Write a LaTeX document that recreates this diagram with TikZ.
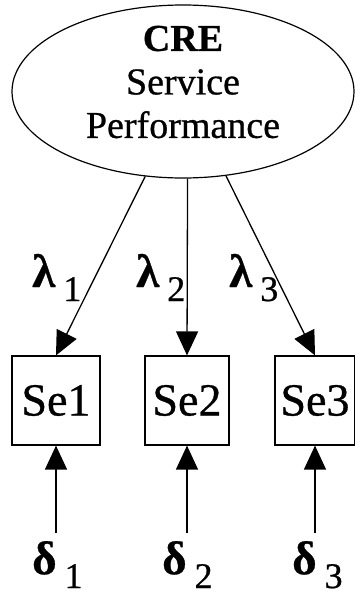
\documentclass[tikz,border=0pt]{standalone}
\usepackage{fontspec}
\setmainfont{Liberation Serif}[FakeBold=0.7]
\usetikzlibrary{shapes.geometric,arrows.meta}

\tikzset{
  latent/.style={ellipse, draw, line width=1.2pt, minimum width=342pt, minimum height=173pt, inner sep=0pt},
  indicator/.style={draw, line width=1.2pt, minimum width=88pt, minimum height=89pt, inner sep=0pt, font=\fontsize{46}{46}\selectfont},
  link/.style={line width=1.3pt, -{Triangle[length=24pt,width=22pt]}},
  coef/.style={anchor=base west, inner sep=0pt},
}
\newcommand\loadlbl[2]{{\fontsize{47}{47}\selectfont\bfseries #1}\hspace{8pt}\raisebox{-14pt}{\fontsize{36}{36}\selectfont #2}}

\begin{document}
\begin{tikzpicture}[x=1pt,y=-1pt]
    \useasboundingbox (0,0) rectangle (355,597);

    % 绘制潜变量
    \node[latent] (crp) at (183,91.5) {};
    \node[align=center, font=\fontsize{38}{43.5}\selectfont] (crplbl) at (183,82) {\textbf{CRE}\\Service\\Performance};

    % 绘制观测变量
    \node[indicator] (se1) at (56,400.5) {Se1};
    \node[indicator, minimum width=84pt] (se2) at (187,400.5) {Se2};
    \node[indicator, minimum width=80pt] (se3) at (315,400.5) {Se3};

    % 绘制载荷
    \draw[link] (crp.246) -- (se1.north);
    \draw[link] (crp.273) -- (se2.north);
    \draw[link] (crp.297) -- (se3.north);
    \node[coef] (l1) at (32,287) {\loadlbl{λ}{1}};
    \node[coef] (l2) at (136,287) {\loadlbl{λ}{2}};
    \node[coef] (l3) at (229,287) {\loadlbl{λ}{3}};

    % 绘制误差项
    \coordinate (e1) at (56,533);
    \coordinate (e2) at (187,533);
    \coordinate (e3) at (315,533);
    \draw[link] (e1) -- (se1.south);
    \draw[link] (e2) -- (se2.south);
    \draw[link] (e3) -- (se3.south);
    \node[coef] (d1) at (32,574) {\loadlbl{δ}{1}};
    \node[coef] (d2) at (162,574) {\loadlbl{δ}{2}};
    \node[coef] (d3) at (292,574) {\loadlbl{δ}{3}};
\end{tikzpicture}
\end{document}
